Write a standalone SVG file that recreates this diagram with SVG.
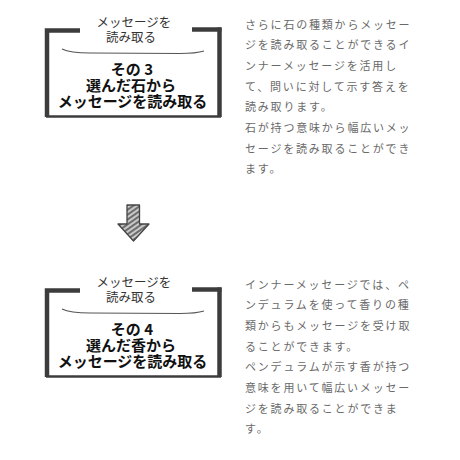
<svg xmlns="http://www.w3.org/2000/svg" width="460" height="460" viewBox="0 0 460 460">
<defs>
<style>
.frame{fill:none;stroke:#3c3c3c;stroke-linecap:butt}
.thick{stroke-width:4.5}
.thin{stroke-width:2.5}
.wave{fill:none;stroke:#555;stroke-width:1.1}
.ttl{font-family:"Noto Sans CJK JP","Noto Sans",sans-serif;font-size:12.5px;fill:#333;text-anchor:middle}
.big{font-family:"Noto Sans CJK JP","Noto Sans",sans-serif;font-size:15px;font-weight:bold;fill:#111;text-anchor:middle}
.body{font-family:"Noto Sans CJK JP","Noto Sans",sans-serif;font-size:11px;fill:#6a6a6a;letter-spacing:1.8px}
</style>
<pattern id="hatch" patternUnits="userSpaceOnUse" width="4" height="4" patternTransform="rotate(-35)">
<rect width="4" height="4" fill="#c8c8c8"/>
<line x1="0" y1="1" x2="4" y2="1" stroke="#555" stroke-width="1.6"/>
</pattern>
</defs>
<rect width="460" height="460" fill="#ffffff"/>

<g id="node-step3">
<path class="frame thick" d="M80,30.5 L47,30.5 L47,117"/>
<path class="frame thick" d="M192,29.5 L221.5,29.5"/>
<path class="frame thick" d="M219.5,27.5 L219.5,117"/>
<path class="frame thin" d="M46,116.5 L221,116.5"/>
<path class="wave" d="M62,49 Q70,53 90,53 L180,53.5 Q196,53.5 204,51"/>
<text class="ttl" x="134" y="27">メッセージを</text>
<text class="ttl" x="131" y="42">読み取る</text>
<text class="big" x="132" y="75">その 3</text>
<text class="big" x="131" y="91">選んだ石から</text>
<text class="big" x="132.5" y="107">メッセージを読み取る</text>
</g>

<g id="text-step3">
<text class="body" x="245" y="28.5">さらに石の種類からメッセー</text>
<text class="body" x="245" y="49.2">ジを読み取ることができるイ</text>
<text class="body" x="245" y="69.9">ンナーメッセージを活用し</text>
<text class="body" x="245" y="90.6">て、問いに対して示す答えを</text>
<text class="body" x="245" y="111.3">読み取ります。</text>
<text class="body" x="245" y="132">石が持つ意味から幅広いメッ</text>
<text class="body" x="245" y="152.7">セージを読み取ることができ</text>
<text class="body" x="245" y="173.4">ます。</text>
</g>

<g id="connectors">
<path d="M127,205 L139.5,205 L139.5,224 L149,224 L133.5,241 L118,224 L127,224 Z" fill="url(#hatch)" stroke="#444" stroke-width="1.3" stroke-linejoin="round"/>
</g>

<g id="node-step4">
<path class="frame thick" d="M80,290.5 L47,290.5 L47,377"/>
<path class="frame thick" d="M192,289.5 L221.5,289.5"/>
<path class="frame thick" d="M219.5,287.5 L219.5,377"/>
<path class="frame thin" d="M46,376.5 L221,376.5"/>
<path class="wave" d="M62,309 Q70,313 90,313 L180,313.5 Q196,313.5 204,311"/>
<text class="ttl" x="134" y="287">メッセージを</text>
<text class="ttl" x="131" y="302">読み取る</text>
<text class="big" x="132" y="335">その 4</text>
<text class="big" x="131" y="351">選んだ香から</text>
<text class="big" x="132.5" y="367">メッセージを読み取る</text>
</g>

<g id="text-step4">
<text class="body" x="245" y="288.5">インナーメッセージでは、ペ</text>
<text class="body" x="245" y="309.2">ンデュラムを使って香りの種</text>
<text class="body" x="245" y="329.9">類からもメッセージを受け取</text>
<text class="body" x="245" y="350.6">ることができます。</text>
<text class="body" x="245" y="371.3">ペンデュラムが示す香が持つ</text>
<text class="body" x="245" y="392">意味を用いて幅広いメッセー</text>
<text class="body" x="245" y="412.7">ジを読み取ることができま</text>
<text class="body" x="245" y="433.4">す。</text>
</g>
</svg>
